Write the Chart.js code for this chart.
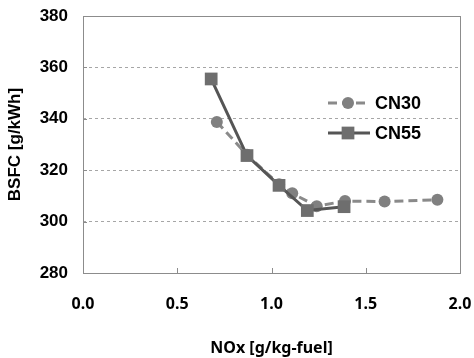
<!DOCTYPE html>
<html>
<head>
<meta charset="utf-8">
<script src="https://cdn.jsdelivr.net/npm/chart.js@4.4.0/dist/chart.umd.min.js"></script>
<style>
  html, body { margin: 0; padding: 0; background: #fff; }
  #wrap { width: 474px; height: 358px; }
</style>
</head>
<body>
<div id="wrap"><canvas id="chartCanvas" width="474" height="358"></canvas></div>
<script>
// NOx [g/kg-fuel] vs BSFC [g/kWh]
const cn30X = [0.71, 0.87, 1.04, 1.11, 1.24, 1.39, 1.60, 1.88];
const cn30Y = [338.8, 326.0, 314.5, 311.0, 306.0, 308.0, 307.8, 308.5];
const cn55X = [0.68, 0.87, 1.04, 1.19, 1.385];
const cn55Y = [355.5, 325.7, 314.1, 304.3, 305.8];
const seriesNames = ["CN30", "CN55"];
const xTicks = [0.0, 0.5, 1.0, 1.5, 2.0];
const yTicks = [280, 300, 320, 340, 360, 380];

const toPoints = (xs, ys) => xs.map((x, i) => ({ x: x, y: ys[i] }));

const labelFont = { family: "'Liberation Sans', Arial, sans-serif", size: 17, weight: "bold" };
const xFont = { family: "'Noto Sans', 'Liberation Sans', sans-serif", size: 16, weight: "bold" };

// plot frame, inward ticks and the legend inside the plot
const framePlugin = {
    id: "frame",
    afterDraw(chart) {
        const ctx = chart.ctx;
        const a = chart.chartArea;
        const xs = chart.scales.x;
        const ys = chart.scales.y;
        ctx.save();
        ctx.strokeStyle = "#8c8c8c";
        ctx.lineWidth = 1;
        ctx.strokeRect(a.left + 0.5, a.top + 0.5, a.right - a.left, a.bottom - a.top);
        ctx.beginPath();
        xTicks.slice(1, -1).forEach(v => {
            const px = Math.round(xs.getPixelForValue(v)) + 0.5;
            ctx.moveTo(px, a.bottom);
            ctx.lineTo(px, a.bottom - 5);
        });
        yTicks.slice(1, -1).forEach(v => {
            const py = Math.round(ys.getPixelForValue(v)) + 0.5;
            ctx.moveTo(a.left, py);
            ctx.lineTo(a.left + 4, py);
        });
        ctx.stroke();

        // legend
        const rows = [103, 133];
        chart.data.datasets.forEach((ds, i) => {
            const y = rows[i];
            ctx.strokeStyle = ds.borderColor;
            ctx.lineWidth = ds.borderWidth;
            ctx.setLineDash(ds.borderDash || []);
            ctx.beginPath();
            ctx.moveTo(328, y);
            ctx.lineTo(370, y);
            ctx.stroke();
            ctx.setLineDash([]);
            ctx.fillStyle = ds.pointBackgroundColor;
            Chart.helpers.drawPoint(ctx, {
                pointStyle: ds.pointStyle,
                radius: ds.pointRadius,
                borderWidth: 0,
                rotation: 0
            }, 348, y);
            ctx.fillStyle = "#000";
            ctx.font = "bold 18px 'Liberation Sans', Arial, sans-serif";
            ctx.textBaseline = "middle";
            ctx.textAlign = "left";
            ctx.fillText(ds.label, 375, y + 1);
        });
        ctx.restore();
    }
};

new Chart(document.getElementById("chartCanvas"), {
    type: "scatter",
    data: {
        datasets: [
            {
                label: seriesNames[0],
                data: toPoints(cn30X, cn30Y),
                showLine: true,
                borderColor: "#8a8a8a",
                borderWidth: 3,
                borderDash: [9, 5],
                pointStyle: "circle",
                pointRadius: 6,
                pointBorderWidth: 0,
                pointBackgroundColor: "#808080",
                order: 2
            },
            {
                label: seriesNames[1],
                data: toPoints(cn55X, cn55Y),
                showLine: true,
                borderColor: "#555555",
                borderWidth: 3,
                pointStyle: "rect",
                pointRadius: 9,
                pointBorderWidth: 0,
                pointBackgroundColor: "#6e6e6e",
                order: 1
            }
        ]
    },
    options: {
        responsive: false,
        animation: false,
        layout: { padding: { top: 16, right: 14, left: 0, bottom: 0 } },
        plugins: {
            legend: { display: false },
            tooltip: { enabled: false }
        },
        scales: {
            x: {
                type: "linear",
                min: 0, max: 2,
                afterBuildTicks: s => { s.ticks = xTicks.map(v => ({ value: v })); },
                afterFit: s => { s.height = 85; s.paddingLeft = 0; s.paddingRight = 0; },
                grid: { display: false, drawTicks: false },
                border: { display: false },
                ticks: {
                    color: "#000",
                    font: xFont,
                    padding: 22,
                    maxRotation: 0,
                    callback: v => v.toFixed(1)
                },
                title: {
                    display: true,
                    text: "NOx [g/kg-fuel]",
                    color: "#000",
                    font: xFont,
                    padding: { top: 0, bottom: 0 }
                }
            },
            y: {
                type: "linear",
                min: 280, max: 380,
                afterBuildTicks: s => { s.ticks = yTicks.map(v => ({ value: v })); },
                afterFit: s => { s.width = 83; s.paddingTop = 0; s.paddingBottom = 0; },
                grid: {
                    drawTicks: false,
                    color: ctx => (ctx.tick && (ctx.tick.value === 280 || ctx.tick.value === 380)) ? "rgba(0,0,0,0)" : "#a6a6a6",
                    lineWidth: 1
                },
                border: { display: false, dash: [3, 3] },
                ticks: {
                    color: "#000",
                    font: labelFont,
                    padding: 15
                },
                title: {
                    display: true,
                    text: "BSFC [g/kWh]",
                    color: "#000",
                    font: labelFont,
                    padding: { top: 5, bottom: 0 }
                }
            }
        }
    },
    plugins: [framePlugin]
});
</script>
</body>
</html>
